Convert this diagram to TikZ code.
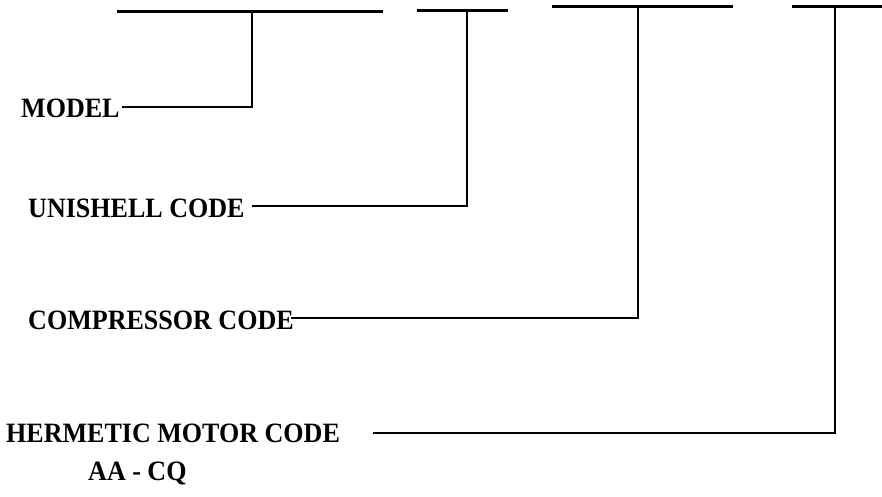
\documentclass[tikz,border=0pt]{standalone}
\usepackage{graphicx}
\usepackage{fontspec}
\setmainfont{Liberation Serif}
\newcommand{\lbltext}[1]{\scalebox{0.93}[1]{#1}}
\begin{document}
\begin{tikzpicture}[x=1pt,y=-1pt,
  lbl/.style={anchor=west,inner sep=0pt,font=\bfseries\fontsize{28}{32}\selectfont},
  bar/.style={line width=3pt},
  conn/.style={line width=2.6pt,line join=miter}]
\useasboundingbox (0,0) rectangle (882,497);
% top bars
\coordinate (b1l) at (117,12); \coordinate (b1r) at (383,12); \coordinate (t1) at (252,12);
\coordinate (b2l) at (417,11); \coordinate (b2r) at (508,11); \coordinate (t2) at (467,11);
\coordinate (b3l) at (552,7);  \coordinate (b3r) at (733,7);  \coordinate (t3) at (638,7);
\coordinate (b4l) at (792,7);  \coordinate (b4r) at (882,7);  \coordinate (t4) at (835,7);
\draw[bar] (b1l) -- (b1r);
\draw[bar] (b2l) -- (b2r);
\draw[bar] (b3l) -- (b3r);
\draw[bar] (b4l) -- (b4r);
% labels
\node[lbl] (model) at (21,108) {\lbltext{MODEL}};
\node[lbl] (unishell) at (28,208) {\lbltext{UNISHELL CODE}};
\node[lbl] (compressor) at (28,320) {\lbltext{COMPRESSOR CODE}};
\node[lbl] (hermetic) at (6,433) {\lbltext{HERMETIC MOTOR CODE}};
\node[lbl,anchor=base west] (range) at (88,480) {\lbltext{AA - CQ}};
% connectors
\coordinate (m0) at (122,107);
\coordinate (u0) at (252,206);
\coordinate (c0) at (291,318);
\coordinate (h0) at (373,433);
\draw[conn] (m0) -| (t1);
\draw[conn] (u0) -| (t2);
\draw[conn] (c0) -| (t3);
\draw[conn] (h0) -| (t4);
\end{tikzpicture}
\end{document}
